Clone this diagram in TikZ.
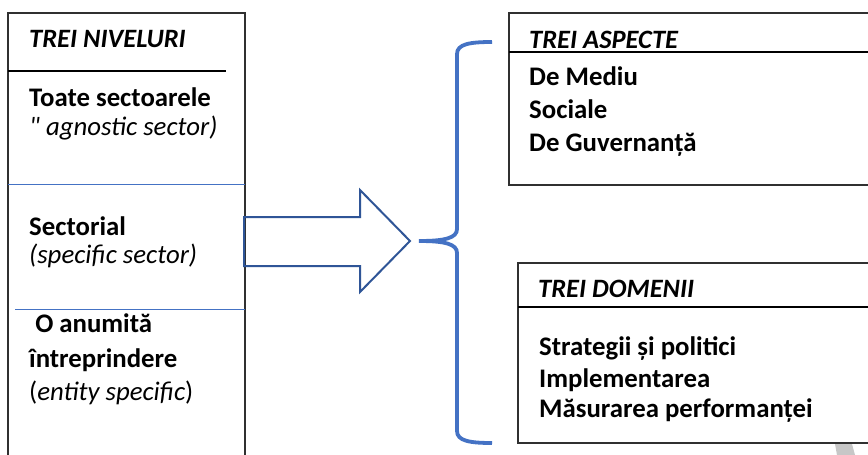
\documentclass[tikz,border=0pt]{standalone}
\usepackage{fontspec}
\setmainfont{Carlito}
\newfontfamily\qfont{Carlito}[Ligatures=ResetAll]
\definecolor{lblue}{HTML}{4472C4}
\definecolor{dblue}{HTML}{2F5597}
\definecolor{bordgrey}{HTML}{303030}
\begin{document}
\begin{tikzpicture}[x=1pt,y=-1pt,
  txt/.style={anchor=base west,inner sep=0pt,font=\fontsize{26.8}{30}\selectfont},
  bt/.style={txt,font=\fontsize{26.8}{30}\selectfont\bfseries},
  it/.style={txt,font=\fontsize{26.8}{30}\selectfont\itshape},
  bit/.style={txt,font=\fontsize{26.5}{30}\selectfont\bfseries\itshape},
  boxline/.style={draw=bordgrey,line width=1.1pt},
  headline/.style={draw=black,line width=2pt},
  sepline/.style={draw=lblue,line width=1pt}]
\useasboundingbox (0,0) rectangle (868,455);
\fill[white] (0,0) rectangle (868,455);
\clip (0,0) rectangle (868,455);
% left box
\draw[boxline] (8,470) -- (8,13) -- (245,13) -- (245,470);
\draw[headline] (8,71) -- (226,71);
\draw[sepline] (8,184) -- (245,184);
\draw[sepline] (15,309) -- (245,309);
\node[bit] (n1) at (29,47) {TREI NIVELURI};
\node[bt] (n2) at (29,106) {Toate sectoarele};
\node[it] (n3) at (29,135) {{\qfont\itshape "} agnostic sector)};
\node[bt] (n4) at (29,235) {Sectorial};
\node[it] (n5) at (29,263) {(specific sector)};
\node[bt] (n6) at (29,332) {\ O anumită};
\node[bt] (n7) at (29,367) {întreprindere};
\node[txt] (n8) at (29,400) {(\textit{entity specific})};
% arrow
\draw[dblue,line width=2pt,line join=miter] (244,217) -- (360,217) -- (360,190) -- (410,241) -- (360,292) -- (360,266) -- (244,266) -- cycle;
% brace
\draw[lblue,line width=3.8pt] (492,42) .. controls (470,42) and (457,44) .. (457,54) -- (457,229)
  .. controls (457,238) and (445,241) .. (419,241)
  .. controls (445,241) and (457,244) .. (457,253) -- (457,431)
  .. controls (457,441) and (470,443) .. (492,443);
% top right box
\draw[boxline] (880,13) -- (509,13) -- (509,185) -- (880,185);
\draw[headline] (509,52) -- (880,52);
\node[bit] (a0) at (529,48) {TREI ASPECTE};
\node[bt] (a1) at (529,85) {De Mediu};
\node[bt] (a2) at (529,118) {Sociale};
\node[bt] (a3) at (529,151) {De Guvernanță};
% bottom right box
\draw[boxline] (880,263) -- (518,263) -- (518,443) -- (880,443);
\draw[headline] (518,307) -- (880,307);
\node[bit] (d0) at (538,297) {TREI DOMENII};
\node[bt] (d1) at (539,355) {Strategii și politici};
\node[bt] (d2) at (539,387) {Implementarea};
\node[bt] (d3) at (539,417) {Măsurarea performanței};
% grey scrap
\fill[black!22] (835,444) -- (852,444) -- (855,455) -- (837,455) -- cycle;
\end{tikzpicture}
\end{document}
